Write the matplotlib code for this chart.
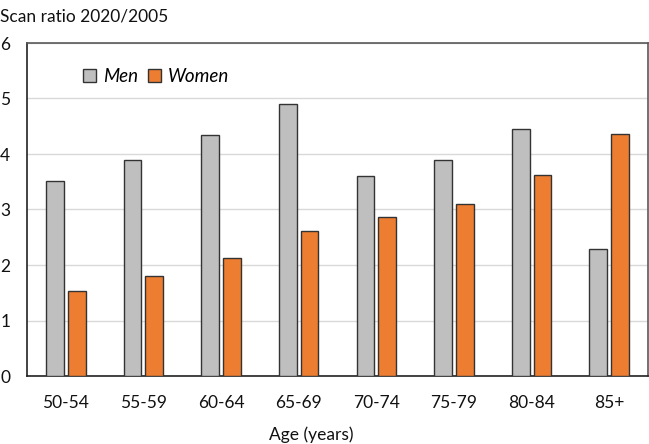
import matplotlib.pyplot as plt
import numpy as np

plt.rcParams['font.family'] = ['Lato', 'DejaVu Sans']

ages = ["50-54", "55-59", "60-64", "65-69", "70-74", "75-79", "80-84", "85+"]
men = [3.52, 3.90, 4.35, 4.90, 3.61, 3.89, 4.45, 2.29]
women = [1.53, 1.80, 2.13, 2.61, 2.86, 3.10, 3.62, 4.36]

fig = plt.figure(figsize=(6.49, 4.44), dpi=100)
ax = fig.add_axes([27 / 649, 1 - 376 / 444, 621 / 649, 333 / 444])

x = np.arange(len(ages))
w = 0.23
ax.bar(x - 0.14, men, w, color="#bfbfbf", edgecolor="#333333", linewidth=1, label="Men", zorder=3)
ax.bar(x + 0.14, women, w, color="#ed7d31", edgecolor="#333333", linewidth=1, label="Women", zorder=3)

ax.set_xlim(-0.5, len(ages) - 0.5)
ax.set_ylim(0, 6)
ax.set_yticks(range(7))
ax.set_xticks(x)
ax.set_xticklabels(ages)
ax.tick_params(axis="both", length=0, labelsize=12.5, colors="#111111")
ax.tick_params(axis="y", pad=12)
ax.tick_params(axis="x", pad=14)
ax.grid(axis="y", color="#d9d9d9", linewidth=1, zorder=0)

for s in ["left", "bottom"]:
    ax.spines[s].set_color("#222222")
    ax.spines[s].set_linewidth(1.2)
for s in ["top", "right"]:
    ax.spines[s].set_color("#595959")
    ax.spines[s].set_linewidth(1.2)

leg = ax.legend(loc="upper left", bbox_to_anchor=(0.063, 0.975), ncol=2, frameon=False,
                prop={"style": "italic", "size": 13.5}, handlelength=0.7, handleheight=0.7,
                handletextpad=0.35, columnspacing=0.55)

fig.text(0.0, 1 - 17 / 444, "Scan ratio 2020/2005", fontsize=12.5, va="center", ha="left", color="#111111")
fig.text(311 / 649, 1 - 435 / 444, "Age (years)", fontsize=12.5, va="center", ha="center", color="#111111")

fig.savefig("out.png", dpi=100)
